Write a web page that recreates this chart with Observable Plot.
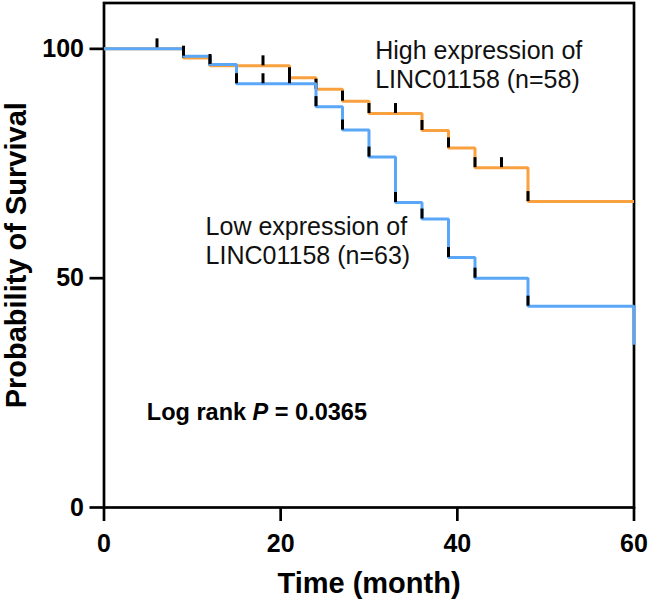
<!DOCTYPE html>
<html>
<head>
<meta charset="utf-8">
<script src="https://cdn.jsdelivr.net/npm/d3@7"></script>
<script src="https://cdn.jsdelivr.net/npm/@observablehq/plot@0.6"></script>
<style>
  body { margin: 0; background: #fff; }
  #chart svg { display: block; }
</style>
</head>
<body>
<div id="chart"></div>
<script>
// Kaplan–Meier survival estimates (%) by LINC01158 expression
const highTimes  = [0, 9, 12, 21, 24, 27, 30, 36, 39, 42, 48, 60];
const highSurv   = [100, 98.0, 96.3, 93.7, 91.2, 88.6, 85.9, 82.2, 78.4, 74.1, 66.7, 66.7];
const highCensor = [6, 9, 12, 18, 21, 24, 27, 30, 33, 36, 39, 42, 45, 48];

const lowTimes  = [0, 9, 12, 15, 24, 27, 30, 33, 36, 39, 42, 48, 60, 60];
const lowSurv   = [100, 98.4, 96.6, 92.4, 87.4, 82.3, 76.4, 66.5, 62.9, 54.5, 50.0, 43.9, 43.9, 35.5];
const lowCensor = [9, 12, 15, 18, 21, 24, 27, 30, 33, 36, 39, 42, 48];

const xTicks = [0, 20, 40, 60];
const yTicks = [0, 50, 100];

const highLabel = "High expression of\nLINC01158 (n=58)";
const lowLabel  = "Low expression of\nLINC01158 (n=63)";
const pLabel    = "Log rank P = 0.0365";

const orange = "#f9a03f";
const blue   = "#5aa7f7";

const curve = (times, surv) => times.map((t, i) => ({t, s: surv[i]}));
// survival level at a time point (value after any drop at that time)
const levelAt = (times, surv, t) => {
  let s = surv[0];
  for (let i = 0; i < times.length; i++) if (times[i] <= t) s = surv[i];
  return s;
};
const ticks = (times, surv, cens) => cens.map(t => ({t, s: levelAt(times, surv, t)}));

const high = curve(highTimes, highSurv);
const low  = curve(lowTimes, lowSurv);
const highTicks = ticks(highTimes, highSurv, highCensor);
const lowTicks  = ticks(lowTimes, lowSurv, lowCensor);

const font = "'Liberation Sans', Arial, Helvetica, sans-serif";

const chart = Plot.plot({
  width: 649,
  height: 601,
  marginLeft: 103.5,
  marginRight: 15.5,
  marginTop: 2.5,
  marginBottom: 94,
  style: {fontFamily: font, background: "#fff", color: "#000", overflow: "visible"},
  x: {domain: [0, 60]},
  y: {domain: [0, 110]},
  marks: [
    Plot.frame({stroke: "#000", strokeWidth: 2.7}),
    Plot.axisX({ticks: xTicks, tickSize: 14, tickPadding: 13, strokeWidth: 2.7, fontSize: 25, fontWeight: "bold", label: null, tickFormat: d => String(d)}),
    Plot.axisY({ticks: yTicks, tickSize: 14, tickPadding: 6, strokeWidth: 2.7, fontSize: 25, fontWeight: "bold", label: null, tickFormat: d => String(d)}),
    Plot.line(high, {x: "t", y: "s", curve: "step-after", stroke: orange, strokeWidth: 3, strokeLinejoin: "miter", strokeLinecap: "butt"}),
    Plot.ruleX(highTicks, {x: "t", y1: "s", y2: "s", insetTop: -10, stroke: "#000", strokeWidth: 3}),
    Plot.line(low, {x: "t", y: "s", curve: "step-after", stroke: blue, strokeWidth: 3, strokeLinejoin: "miter", strokeLinecap: "butt"}),
    Plot.ruleX(lowTicks, {x: "t", y1: "s", y2: "s", insetTop: -10, stroke: "#000", strokeWidth: 3}),
    Plot.text(["Probability of Survival"], {frameAnchor: "left", textAnchor: "middle", lineAnchor: "middle", rotate: -90, dx: -87, fontSize: 29, fontWeight: "bold", fill: "#000"}),
    Plot.text(["Time (month)"], {frameAnchor: "bottom", textAnchor: "middle", lineAnchor: "top", dy: 65, fontSize: 29, fontWeight: "bold", fill: "#000"}),
    Plot.text([highLabel], {x: 30.7, y: 102.2, textAnchor: "start", lineAnchor: "top", fontSize: 25, lineHeight: 1.14, fill: "#111"}),
    Plot.text([lowLabel], {x: 11.5, y: 63.8, textAnchor: "start", lineAnchor: "top", fontSize: 25, lineHeight: 1.14, fill: "#111"}),
    Plot.text([pLabel], {x: 4.85, y: 22.8, textAnchor: "start", lineAnchor: "top", fontSize: 23.5, fontWeight: "bold", fill: "#000"})
  ]
});

// italic P in the log-rank annotation
d3.select(chart).selectAll("text").filter(function() { return this.textContent === pLabel; })
  .html('Log rank <tspan font-style="italic">P</tspan> = 0.0365');

document.getElementById("chart").append(chart);
</script>
</body>
</html>
